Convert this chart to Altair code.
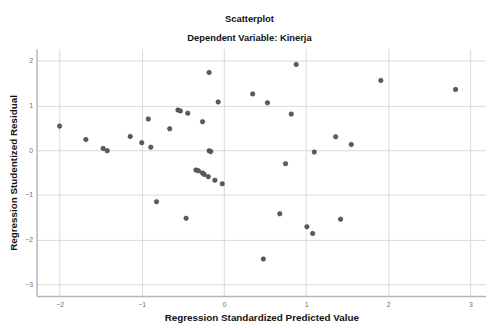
import altair as alt
import pandas as pd

x_vals = [-2.00, -1.68, -1.47, -1.42, -1.14, -1.00, -0.89, -0.92, -0.66, -0.56,
          -0.53, -0.44, -0.26, -0.18, -0.07, -0.18, -0.16, -0.34, -0.31, -0.26,
          -0.24, -0.19, -0.11, -0.02, -0.82, -0.46, 0.88, 0.35, 0.53, 0.82,
          1.91, 2.82, 1.36, 1.55, 1.10, 0.75, 0.68, 1.01, 1.08, 1.42, 0.48]
y_vals = [0.54, 0.24, 0.04, -0.01, 0.31, 0.17, 0.07, 0.70, 0.48, 0.90,
          0.88, 0.83, 0.64, 1.74, 1.08, -0.01, -0.03, -0.44, -0.46, -0.51,
          -0.54, -0.59, -0.67, -0.75, -1.15, -1.52, 1.92, 1.26, 1.06, 0.81,
          1.56, 1.36, 0.30, 0.13, -0.04, -0.30, -1.42, -1.71, -1.86, -1.54, -2.43]
x_ticks = [-2, -1, 0, 1, 2, 3]
y_ticks = [-3, -2, -1, 0, 1, 2]

df = pd.DataFrame({"x": x_vals, "y": y_vals})

W, H = 456, 251

chart = alt.Chart(df).mark_circle(
    size=21, color="#5c5c5c", opacity=1, stroke="#333333", strokeWidth=0.5
).encode(
    x=alt.X("x:Q", scale=alt.Scale(domain=[-2.28, 3.19], nice=False, zero=False),
            axis=alt.Axis(values=x_ticks, title="Regression Standardized Predicted Value",
                          titleX=W / 2, titleY=22, titleBaseline="middle",
                          titleAlign="center")),
    y=alt.Y("y:Q", scale=alt.Scale(domain=[-3.26, 2.27], nice=False, zero=False),
            axis=alt.Axis(values=y_ticks, title="Regression Studentized Residual",
                          titleX=-23, titleY=H / 2, titleAngle=270,
                          titleBaseline="middle", titleAlign="center")),
).properties(
    width=W,
    height=H,
    autosize=alt.AutoSizeParams(type="none"),
    padding={"left": 29, "top": 39, "right": 0, "bottom": 28},
    title=alt.TitleParams(
        text="Scatterplot",
        subtitle="Dependent Variable: Kinerja",
        anchor="middle",
        dx=-12,
        offset=6,
        fontSize=9.5,
        subtitleFontSize=9.5,
        font="Liberation Sans",
        subtitleFont="Liberation Sans",
        fontWeight="bold",
        subtitleFontWeight="bold",
        color="#111111",
        subtitleColor="#111111",
        subtitlePadding=10,
    ),
).configure_view(
    stroke=None
).configure_axis(
    grid=True,
    gridColor="#d9d9d9",
    gridWidth=1,
    domainColor="#b5b5b5",
    domainWidth=1.5,
    ticks=False,
    labelFont="Liberation Sans",
    labelFontSize=7,
    labelColor="#6e6e6e",
    labelPadding=5,
    titleFont="Liberation Sans",
    titleFontSize=10,
    titleFontWeight="bold",
    titleColor="#111111",
).configure_axisY(
    labelPadding=4
).configure_axisX(
    labelPadding=5
)

chart.save("out.html", embed_options={"renderer": "svg", "actions": False})
